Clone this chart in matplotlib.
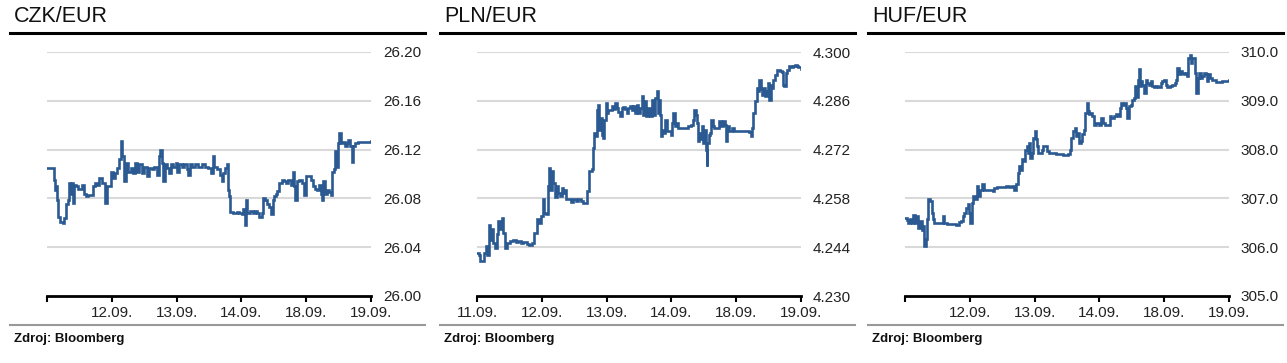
import matplotlib
matplotlib.use("Agg")
import matplotlib.pyplot as plt
from matplotlib.lines import Line2D

plt.rcParams['font.family'] = ['Liberation Sans', 'DejaVu Sans']

# ---------------- data ----------------
day_labels = ['11.09.', '12.09.', '13.09.', '14.09.', '18.09.', '19.09.']

czk_t = [0.000, 0.098, 0.113, 0.123, 0.139, 0.159, 0.175, 0.201, 0.242, 0.262, 0.293, 0.319, 0.334, 0.355,
         0.370, 0.381, 0.406, 0.417, 0.448, 0.484, 0.535, 0.571, 0.602, 0.638, 0.674, 0.705, 0.741, 0.772,
         0.808, 0.844, 0.880, 0.895, 0.921, 0.947, 0.983, 1.014, 1.049, 1.085, 1.111, 1.137, 1.157, 1.188,
         1.219, 1.255, 1.291, 1.332, 1.358, 1.384, 1.425, 1.461, 1.497, 1.538, 1.579, 1.615, 1.646, 1.692,
         1.723, 1.744, 1.769, 1.795, 1.821, 1.847, 1.888, 1.908, 1.950, 1.991, 2.011, 2.042, 2.078, 2.114,
         2.155, 2.181, 2.207, 2.233, 2.284, 2.335, 2.387, 2.438, 2.490, 2.526, 2.557, 2.577, 2.618, 2.670,
         2.695, 2.721, 2.752, 2.778, 2.793, 2.814, 2.824, 2.876, 2.927, 2.968, 3.004, 3.030, 3.056, 3.071,
         3.092, 3.133, 3.174, 3.210, 3.246, 3.277, 3.313, 3.339, 3.364, 3.390, 3.421, 3.452, 3.483, 3.508,
         3.534, 3.555, 3.585, 3.621, 3.657, 3.688, 3.724, 3.760, 3.791, 3.812, 3.827, 3.853, 3.889, 3.930,
         3.966, 3.997, 4.033, 4.069, 4.100, 4.136, 4.172, 4.203, 4.228, 4.249, 4.264, 4.295, 4.326, 4.356,
         4.383, 4.403, 4.429, 4.444, 4.470, 4.496, 4.506, 4.532, 4.563, 4.599, 4.625, 4.650, 4.676, 4.702,
         4.727, 4.753, 4.805, 4.856, 4.907, 4.959, 5.000]
czk_v = [26.105, 26.105, 26.095, 26.087, 26.090, 26.079, 26.065, 26.061, 26.060, 26.064, 26.075, 26.079, 26.093, 26.084,
         26.090, 26.093, 26.076, 26.091, 26.090, 26.088, 26.091, 26.084, 26.082, 26.083, 26.083, 26.090, 26.093, 26.091,
         26.097, 26.093, 26.093, 26.076, 26.090, 26.090, 26.102, 26.097, 26.101, 26.105, 26.112, 26.127, 26.115, 26.094,
         26.109, 26.102, 26.105, 26.101, 26.109, 26.102, 26.108, 26.101, 26.106, 26.098, 26.105, 26.104, 26.106, 26.099,
         26.115, 26.120, 26.109, 26.094, 26.108, 26.105, 26.101, 26.108, 26.106, 26.109, 26.102, 26.108, 26.106, 26.108,
         26.104, 26.099, 26.108, 26.106, 26.108, 26.106, 26.108, 26.106, 26.105, 26.101, 26.115, 26.106, 26.104, 26.099,
         26.094, 26.101, 26.105, 26.108, 26.087, 26.082, 26.069, 26.068, 26.069, 26.068, 26.067, 26.071, 26.058, 26.079,
         26.068, 26.070, 26.068, 26.070, 26.068, 26.065, 26.068, 26.080, 26.079, 26.075, 26.073, 26.067, 26.079, 26.082,
         26.084, 26.086, 26.093, 26.095, 26.094, 26.093, 26.095, 26.091, 26.102, 26.090, 26.079, 26.094, 26.095, 26.093,
         26.083, 26.098, 26.098, 26.095, 26.090, 26.088, 26.087, 26.091, 26.084, 26.079, 26.094, 26.084, 26.087, 26.085,
         26.083, 26.102, 26.104, 26.119, 26.106, 26.125, 26.134, 26.125, 26.126, 26.123, 26.125, 26.128, 26.123, 26.110,
         26.123, 26.125, 26.126, 26.126, 26.126, 26.126, 26.127]

pln_t = [0.000, 0.031, 0.046, 0.087, 0.113, 0.139, 0.159, 0.180, 0.201, 0.226, 0.252, 0.278, 0.303, 0.329,
         0.355, 0.381, 0.406, 0.432, 0.458, 0.509, 0.561, 0.602, 0.638, 0.674, 0.715, 0.766, 0.808, 0.844,
         0.880, 0.921, 0.931, 0.962, 0.988, 1.013, 1.034, 1.065, 1.091, 1.106, 1.127, 1.152, 1.178, 1.204,
         1.229, 1.255, 1.281, 1.307, 1.332, 1.358, 1.373, 1.409, 1.445, 1.487, 1.528, 1.564, 1.600, 1.641,
         1.682, 1.703, 1.734, 1.770, 1.785, 1.806, 1.826, 1.847, 1.862, 1.878, 1.898, 1.919, 1.929, 1.950,
         1.965, 1.986, 2.001, 2.027, 2.052, 2.078, 2.104, 2.130, 2.155, 2.181, 2.207, 2.233, 2.258, 2.284,
         2.310, 2.335, 2.361, 2.387, 2.413, 2.438, 2.464, 2.490, 2.515, 2.541, 2.557, 2.582, 2.608, 2.644,
         2.670, 2.695, 2.721, 2.747, 2.773, 2.788, 2.808, 2.824, 2.834, 2.860, 2.876, 2.901, 2.927, 2.968,
         2.989, 3.004, 3.030, 3.056, 3.081, 3.107, 3.143, 3.184, 3.225, 3.261, 3.297, 3.328, 3.349, 3.375,
         3.390, 3.405, 3.426, 3.452, 3.472, 3.493, 3.514, 3.529, 3.545, 3.555, 3.575, 3.596, 3.611, 3.637,
         3.663, 3.699, 3.730, 3.760, 3.801, 3.827, 3.843, 3.863, 3.894, 3.930, 3.966, 4.007, 4.059, 4.110,
         4.162, 4.203, 4.223, 4.244, 4.264, 4.290, 4.316, 4.342, 4.357, 4.378, 4.398, 4.419, 4.444, 4.470,
         4.496, 4.511, 4.532, 4.558, 4.573, 4.599, 4.625, 4.650, 4.676, 4.702, 4.717, 4.743, 4.769, 4.789,
         4.810, 4.841, 4.871, 4.907, 4.933, 4.959, 5.000]
pln_v = [4.2422, 4.2419, 4.2400, 4.2400, 4.2424, 4.2443, 4.2419, 4.2505, 4.2462, 4.2491, 4.2453, 4.2438, 4.2477, 4.2515,
         4.2491, 4.2524, 4.2481, 4.2438, 4.2453, 4.2458, 4.2462, 4.2455, 4.2458, 4.2453, 4.2455, 4.2448, 4.2445, 4.2453,
         4.2481, 4.2491, 4.2520, 4.2510, 4.2529, 4.2577, 4.2539, 4.2534, 4.2615, 4.2668, 4.2605, 4.2658, 4.2625, 4.2585,
         4.2615, 4.2595, 4.2586, 4.2610, 4.2595, 4.2605, 4.2577, 4.2577, 4.2569, 4.2577, 4.2572, 4.2577, 4.2572, 4.2567,
         4.2567, 4.2601, 4.2658, 4.2663, 4.2725, 4.2768, 4.2758, 4.2835, 4.2849, 4.2777, 4.2811, 4.2811, 4.2763, 4.2754,
         4.2806, 4.2854, 4.2825, 4.2835, 4.2835, 4.2844, 4.2837, 4.2854, 4.2839, 4.2827, 4.2816, 4.2839, 4.2841, 4.2837,
         4.2825, 4.2839, 4.2844, 4.2835, 4.2844, 4.2825, 4.2849, 4.2825, 4.2839, 4.2873, 4.2820, 4.2859, 4.2816, 4.2839,
         4.2816, 4.2863, 4.2820, 4.2868, 4.2887, 4.2825, 4.2863, 4.2820, 4.2760, 4.2777, 4.2768, 4.2806, 4.2772, 4.2772,
         4.2763, 4.2796, 4.2825, 4.2787, 4.2796, 4.2782, 4.2782, 4.2782, 4.2782, 4.2787, 4.2791, 4.2806, 4.2835, 4.2820,
         4.2796, 4.2744, 4.2768, 4.2749, 4.2787, 4.2739, 4.2777, 4.2720, 4.2672, 4.2739, 4.2763, 4.2768, 4.2806, 4.2787,
         4.2782, 4.2782, 4.2801, 4.2787, 4.2801, 4.2791, 4.2744, 4.2787, 4.2772, 4.2782, 4.2772, 4.2774, 4.2774, 4.2774,
         4.2772, 4.2770, 4.2758, 4.2782, 4.2825, 4.2859, 4.2897, 4.2887, 4.2921, 4.2893, 4.2878, 4.2897, 4.2873, 4.2887,
         4.2911, 4.2863, 4.2906, 4.2897, 4.2921, 4.2935, 4.2949, 4.2949, 4.2945, 4.2942, 4.2906, 4.2903, 4.2940, 4.2949,
         4.2959, 4.2956, 4.2961, 4.2962, 4.2959, 4.2957, 4.2952]

huf_t = [0.000, 0.026, 0.051, 0.077, 0.103, 0.128, 0.154, 0.180, 0.206, 0.231, 0.257, 0.283, 0.298, 0.324,
         0.344, 0.360, 0.385, 0.411, 0.427, 0.452, 0.504, 0.555, 0.581, 0.606, 0.642, 0.683, 0.735, 0.786,
         0.827, 0.863, 0.889, 0.915, 0.940, 0.966, 0.982, 1.007, 1.028, 1.054, 1.079, 1.105, 1.131, 1.156,
         1.187, 1.213, 1.249, 1.300, 1.352, 1.377, 1.413, 1.454, 1.506, 1.557, 1.609, 1.650, 1.686, 1.711,
         1.737, 1.752, 1.773, 1.804, 1.829, 1.850, 1.876, 1.891, 1.917, 1.932, 1.958, 1.979, 1.999, 2.020,
         2.040, 2.056, 2.081, 2.107, 2.133, 2.158, 2.184, 2.225, 2.277, 2.328, 2.369, 2.405, 2.441, 2.482,
         2.518, 2.544, 2.564, 2.590, 2.616, 2.636, 2.662, 2.688, 2.713, 2.739, 2.755, 2.780, 2.801, 2.821,
         2.842, 2.868, 2.893, 2.919, 2.945, 2.996, 3.022, 3.048, 3.083, 3.124, 3.160, 3.186, 3.227, 3.263,
         3.294, 3.315, 3.335, 3.356, 3.382, 3.407, 3.433, 3.459, 3.489, 3.510, 3.536, 3.551, 3.572, 3.592,
         3.608, 3.623, 3.644, 3.664, 3.690, 3.716, 3.741, 3.767, 3.793, 3.818, 3.844, 3.880, 3.911, 3.947,
         3.972, 3.998, 4.024, 4.050, 4.086, 4.127, 4.163, 4.188, 4.204, 4.229, 4.255, 4.281, 4.307, 4.332,
         4.353, 4.373, 4.394, 4.414, 4.435, 4.455, 4.476, 4.497, 4.517, 4.538, 4.564, 4.589, 4.615, 4.640,
         4.661, 4.682, 4.702, 4.733, 4.769, 4.805, 4.846, 4.897, 4.949, 5.000]
huf_v = [306.60, 306.56, 306.50, 306.57, 306.49, 306.65, 306.49, 306.64, 306.40, 306.53, 306.36, 306.43, 306.02, 306.16,
         306.57, 306.98, 306.95, 306.71, 306.57, 306.49, 306.49, 306.49, 306.64, 306.50, 306.47, 306.47, 306.47, 306.45,
         306.51, 306.53, 306.64, 306.71, 306.81, 306.88, 306.71, 306.50, 306.91, 307.05, 306.98, 307.25, 307.05, 307.18,
         307.29, 307.18, 307.18, 307.17, 307.15, 307.22, 307.23, 307.24, 307.23, 307.25, 307.23, 307.26, 307.18, 307.29,
         307.52, 307.66, 307.59, 307.80, 307.77, 308.00, 308.07, 307.93, 308.14, 307.83, 307.93, 308.24, 308.38, 308.21,
         308.07, 307.93, 307.93, 308.00, 308.07, 308.07, 307.97, 307.93, 307.93, 307.92, 307.90, 307.90, 307.88, 307.88,
         307.90, 308.00, 308.24, 308.38, 308.44, 308.27, 308.34, 308.14, 308.17, 308.31, 308.41, 308.75, 308.96, 308.79,
         308.72, 308.75, 308.68, 308.51, 308.55, 308.51, 308.65, 308.55, 308.51, 308.51, 308.68, 308.65, 308.68, 308.72,
         308.68, 308.85, 308.96, 308.92, 308.96, 308.85, 308.65, 308.89, 308.92, 309.02, 309.06, 309.30, 309.08, 309.43,
         309.65, 309.30, 309.40, 309.33, 309.16, 309.43, 309.37, 309.33, 309.40, 309.31, 309.28, 309.30, 309.28, 309.37,
         309.40, 309.43, 309.33, 309.28, 309.30, 309.33, 309.37, 309.43, 309.67, 309.54, 309.61, 309.57, 309.54, 309.57,
         309.50, 309.88, 309.94, 309.77, 309.88, 309.88, 309.57, 309.16, 309.47, 309.57, 309.47, 309.50, 309.57, 309.54,
         309.40, 309.54, 309.47, 309.43, 309.42, 309.39, 309.39, 309.40, 309.40, 309.43]

czk_ticks = [26.00, 26.04, 26.08, 26.12, 26.16, 26.20]
pln_ticks = [4.230, 4.244, 4.258, 4.272, 4.286, 4.300]
huf_ticks = [305.0, 306.0, 307.0, 308.0, 309.0, 310.0]

panels = [
    dict(title='CZK/EUR', t=czk_t, v=czk_v, ticks=czk_ticks, fmt='{:.2f}', first_label=False, px=0),
    dict(title='PLN/EUR', t=pln_t, v=pln_v, ticks=pln_ticks, fmt='{:.3f}', first_label=True, px=430),
    dict(title='HUF/EUR', t=huf_t, v=huf_v, ticks=huf_ticks, fmt='{:.1f}', first_label=False, px=858),
]

W, H = 1287, 363
fig = plt.figure(figsize=(W / 100, H / 100), dpi=100)
line_color = '#2b5a92'

def fx(x):
    return x / W

def fy(y):
    return 1 - y / H

for p in panels:
    ox = p['px']
    ax = fig.add_axes([fx(ox + 47), fy(296), fx(324), 244 / H])
    ax.plot(p['t'], p['v'], color=line_color, lw=1.9, drawstyle='steps-post', solid_joinstyle='miter')
    ax.set_xlim(0, 5)
    ax.set_ylim(p['ticks'][0], p['ticks'][-1])
    for tv in p['ticks'][1:]:
        ax.axhline(tv, color='#d9d9d9', lw=1.5, zorder=0)
    ax.set_yticks(p['ticks'])
    ax.set_yticklabels([p['fmt'].format(tv) for tv in p['ticks']])
    ax.yaxis.tick_right()
    ax.tick_params(axis='y', length=0, pad=8.5, labelsize=11, colors='#222222')
    ax.set_xticks(range(6))
    labels = list(day_labels)
    if not p['first_label']:
        labels[0] = ''
    ax.set_xticklabels(labels)
    ax.tick_params(axis='x', direction='out', length=4, width=1.5, pad=3.5, labelsize=11,
                   colors='#000000', labelcolor='#222222')
    for s in ['top', 'left', 'right']:
        ax.spines[s].set_visible(False)
    ax.spines['bottom'].set_linewidth(2)
    ax.spines['bottom'].set_color('#000000')

    fig.text(fx(ox + 14), fy(22), p['title'], fontsize=15.5, color='#111111', va='baseline', ha='left')
    fig.add_artist(Line2D([fx(ox + 10), fx(ox + 425)], [fy(33), fy(33)], color='#000000', lw=2.2))
    fig.add_artist(Line2D([fx(ox + 10), fx(ox + 425)], [fy(325), fy(325)], color='#999999', lw=1.5))
    fig.text(fx(ox + 14), fy(339), 'Zdroj: Bloomberg', fontsize=9.5, fontweight='bold',
             color='#111111', va='center', ha='left')

fig.savefig('out.png', dpi=100)
